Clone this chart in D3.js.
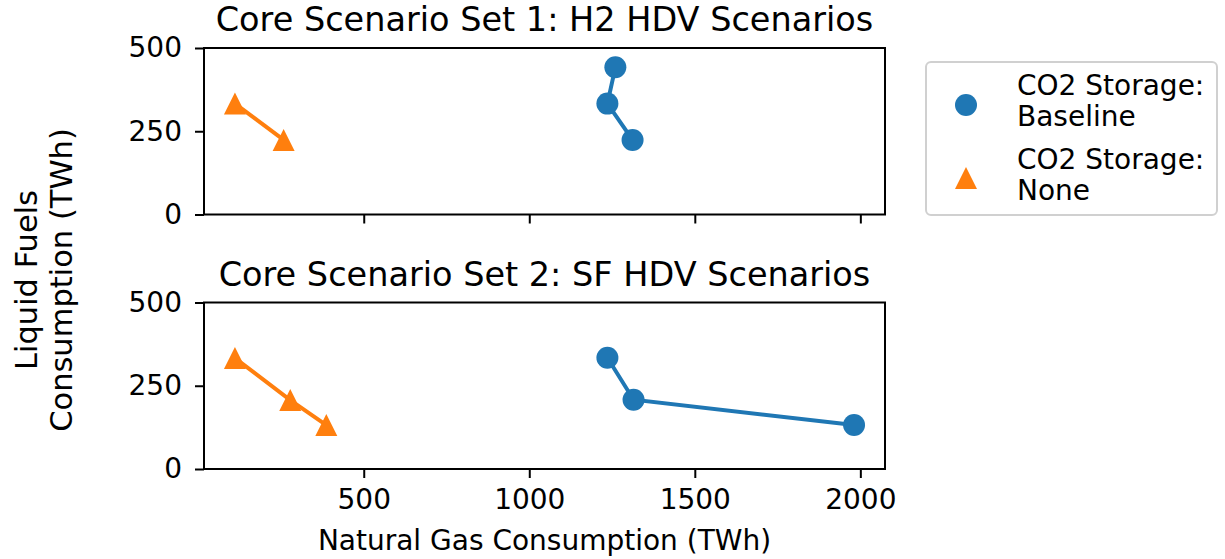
<!DOCTYPE html>
<html>
<head>
<meta charset="utf-8">
<script src="https://cdn.jsdelivr.net/npm/d3@7"></script>
<style>
  body { margin: 0; background: #fff; }
  svg text { font-family: "DejaVu Sans", sans-serif; fill: #000; }
</style>
</head>
<body>
<svg id="chart" width="1225" height="559"></svg>
<script>
// data
const panelTitles = ["Core Scenario Set 1: H2 HDV Scenarios", "Core Scenario Set 2: SF HDV Scenarios"];
const seriesNames = ["CO2 Storage:\nBaseline", "CO2 Storage:\nNone"];
const seriesColors = ["#1f77b4", "#ff7f0e"];

// panel 1
const baseGas1 = [1260, 1236, 1312];
const baseLiq1 = [442, 333, 224];
const noneGas1 = [111, 258];
const noneLiq1 = [333, 224];
// panel 2
const baseGas2 = [1236, 1315, 1981];
const baseLiq2 = [334, 208, 132];
const noneGas2 = [111, 278, 387];
const noneLiq2 = [333, 207, 132];

const xTicks = [500, 1000, 1500, 2000];
const yTicks = [0, 250, 500];

const svg = d3.select("#chart");
const left = 204, right = 885;
const panelTops = [48, 302.5], panelH = 166.5;
const fs = "28px";

// matplotlib style 5% margins on the shared x axis
const allGas = baseGas1.concat(noneGas1, baseGas2, noneGas2);
const gmin = d3.min(allGas), gmax = d3.max(allGas), pad = (gmax - gmin) * 0.05;
const x = d3.scaleLinear().domain([gmin - pad, gmax + pad]).range([left, right]);

const panels = [
  { title: panelTitles[0], series: [[baseGas1, baseLiq1], [noneGas1, noneLiq1]] },
  { title: panelTitles[1], series: [[baseGas2, baseLiq2], [noneGas2, noneLiq2]] }
];

const msize = 22;
const circleSym = d3.symbol().type(d3.symbolCircle).size(Math.PI * (msize / 2) * (msize / 2));
function triPath(s) {
  // matplotlib "^" : width s, height s, centred
  const h = s / 2;
  return `M0,${-h}L${h},${h}L${-h},${h}Z`;
}

panels.forEach((p, pi) => {
  const top = panelTops[pi];
  const y = d3.scaleLinear().domain([0, 500]).range([top + panelH, top]);
  const g = svg.append("g");

  g.append("text").attr("x", (left + right) / 2).attr("y", top - 17)
    .attr("text-anchor", "middle").style("font-size", "33.5px").text(p.title);

  p.series.forEach((s, si) => {
    const pts = s[0].map((v, i) => [v, s[1][i]]);
    g.append("path").datum(pts)
      .attr("fill", "none").attr("stroke", seriesColors[si]).attr("stroke-width", 4)
      .attr("d", d3.line().x(d => x(d[0])).y(d => y(d[1])));
    g.selectAll(null).data(pts).enter().append("path")
      .attr("transform", d => `translate(${x(d[0])},${y(d[1])})`)
      .attr("d", si === 0 ? circleSym() : triPath(msize))
      .attr("fill", seriesColors[si]);
  });

  // y axis
  const ya = g.append("g").attr("transform", `translate(${left},0)`)
    .call(d3.axisLeft(y).tickValues(yTicks).tickSize(9).tickPadding(13).tickFormat(d3.format("d")));
  ya.select(".domain").remove();
  ya.selectAll("line").attr("stroke-width", 2);
  ya.selectAll("text").style("font-size", fs);

  // x axis
  const xa = g.append("g").attr("transform", `translate(0,${top + panelH})`)
    .call(d3.axisBottom(x).tickValues(xTicks).tickSize(9).tickPadding(11).tickFormat(d3.format("d")));
  xa.select(".domain").remove();
  xa.selectAll("line").attr("stroke-width", 2);
  xa.selectAll("text").style("font-size", fs);
  if (pi === 0) xa.selectAll("text").remove();

  g.append("rect").attr("x", left).attr("y", top).attr("width", right - left).attr("height", panelH)
    .attr("fill", "none").attr("stroke", "#000").attr("stroke-width", 2);
});

// axis labels
svg.append("text").attr("x", (left + right) / 2).attr("y", 550)
  .attr("text-anchor", "middle").style("font-size", fs).text("Natural Gas Consumption (TWh)");

const yl = svg.append("text").attr("transform", "translate(37,280) rotate(-90)")
  .attr("text-anchor", "middle").style("font-size", "30.5px");
yl.append("tspan").attr("x", 0).attr("y", 0).text("Liquid Fuels");
yl.append("tspan").attr("x", 0).attr("y", 35).text("Consumption (TWh)");

// legend
const lg = svg.append("g").attr("transform", "translate(926,62)");
lg.append("rect").attr("width", 291).attr("height", 153).attr("rx", 5)
  .attr("fill", "#fff").attr("stroke", "#d0d0d0").attr("stroke-width", 2);
seriesNames.forEach((name, i) => {
  const cy = 43 + i * 73;
  lg.append("path").attr("transform", `translate(40,${cy})`)
    .attr("d", i === 0 ? circleSym() : triPath(msize)).attr("fill", seriesColors[i]);
  const t = lg.append("text").style("font-size", fs);
  name.split("\n").forEach((line, j) => {
    t.append("tspan").attr("x", 91).attr("y", 33 + i * 74 + j * 31).text(line);
  });
});
</script>
</body>
</html>
